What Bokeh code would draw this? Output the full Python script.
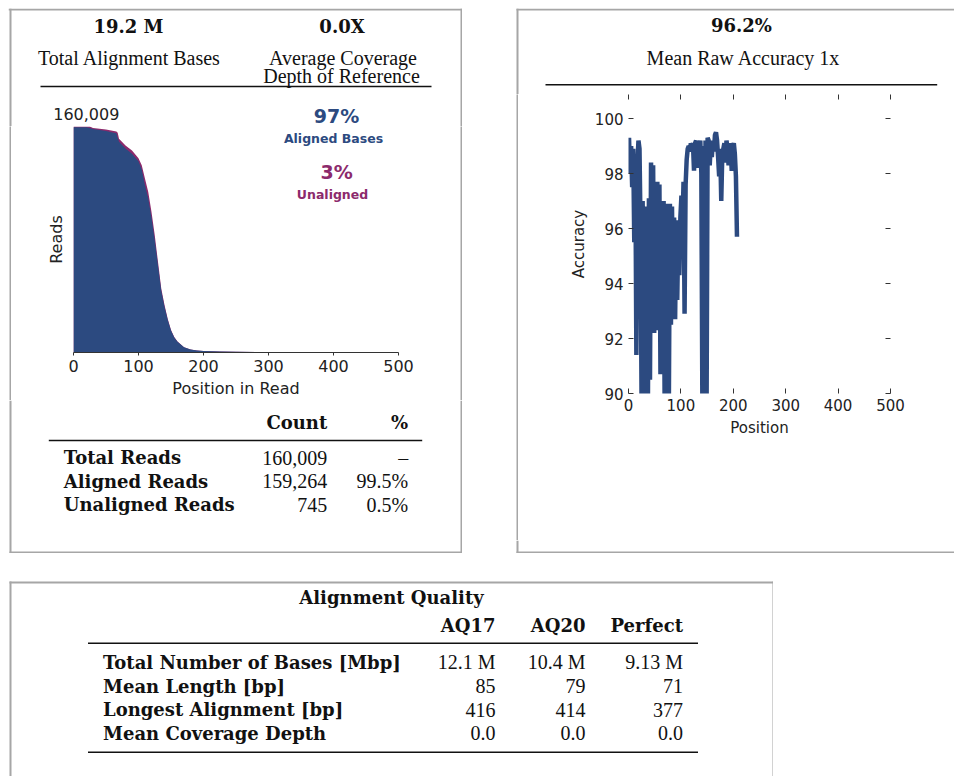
from bokeh.plotting import figure
from bokeh.models import Range1d, FixedTicker, LinearAxis, Spacer
from bokeh.layouts import row, column
from bokeh.core.properties import value
from bokeh.embed import file_html
from bokeh.resources import INLINE

# ---------------- data ----------------
total_alignment_bases = "19.2 M"
avg_coverage_depth = "0.0X"
mean_raw_accuracy = "96.2%"
aligned_bases_pct = "97%"
unaligned_bases_pct = "3%"
max_reads = 160009

# reads still covering each position in read (total vs aligned)
read_positions = [0, 10, 20, 25, 30, 40, 50, 60, 66, 68, 70, 80, 90, 100, 105,
                  110, 115, 120, 125, 130, 135, 140, 145, 150, 155, 160, 170,
                  180, 190, 200, 225, 250, 300, 350, 400, 420, 500]
total_reads = [160009, 160009, 160009, 160009, 159000, 158400, 157900, 157000,
               156500, 155500, 151400, 146600, 143000, 137600, 132500, 123000,
               113600, 99500, 83000, 64000, 45400, 33600, 23800, 16000, 11000,
               7800, 3800, 2100, 1400, 1100, 700, 480, 240, 140, 80, 0, 0]
aligned_reads = [159500, 159500, 159400, 159000, 158200, 157600, 156900, 155800,
                 155200, 152000, 149200, 144400, 140800, 135400, 129500, 118500,
                 109000, 95500, 79500, 61500, 43800, 32400, 23000, 15500, 10700,
                 7600, 3700, 2050, 1370, 1080, 690, 470, 235, 137, 78, 0, 0]
reads_xticks = [0, 100, 200, 300, 400, 500]

# mean raw accuracy by position
acc_positions = list(range(1, 208, 2))
acc_values = [99.3, 98.0, 99.0, 97.5, 98.9,
              95.5, 98.6, 91.4, 98.4, 99.2,
              98.9, 96.0, 89.5, 97.0, 92.5,
              96.8, 89.5, 96.5, 89.5, 97.1,
              90.5, 98.4, 93.0, 98.3, 92.2,
              97.2, 92.3, 97.7, 94.5, 97.6,
              90.7, 96.8, 93.5, 97.0, 89.5,
              96.9, 89.5, 96.6, 89.5, 96.9,
              92.5, 96.8, 93.3, 96.4, 92.7,
              96.3, 93.4, 95.9, 94.3, 96.4,
              97.2, 96.0, 97.7, 92.9, 97.6,
              98.5, 98.9, 99.0, 98.8, 99.1,
              99.0, 99.1, 98.1, 99.1, 99.2,
              98.2, 99.1, 98.9, 99.2, 98.0,
              89.5, 99.0, 89.5, 99.2, 89.5,
              99.3, 99.2, 98.3, 99.1, 98.6,
              99.2, 98.8, 99.4, 99.5, 99.2,
              98.6, 97.9, 98.9, 97.0, 98.7,
              98.9, 99.1, 98.4, 99.2, 98.9,
              98.3, 99.1, 98.9, 98.1, 99.0,
              99.1, 98.7, 97.9, 95.7]
acc_xticks = [0, 100, 200, 300, 400, 500]
acc_yticks = [90, 92, 94, 96, 98, 100]

read_rows = ["Total Reads", "Aligned Reads", "Unaligned Reads"]
read_counts = [160009, 159264, 745]
read_pcts = ["\u2013", "99.5%", "0.5%"]

aq_title = "Alignment Quality"
aq_columns = ["AQ17", "AQ20", "Perfect"]
aq_rows = ["Total Number of Bases [Mbp]", "Mean Length [bp]",
           "Longest Alignment [bp]", "Mean Coverage Depth"]
aq_total_bases = ["12.1 M", "10.4 M", "9.13 M"]
aq_mean_length = [85, 79, 71]
aq_longest = [416, 414, 377]
aq_mean_depth = [0.0, 0.0, 0.0]

# ---------------- style ----------------
BLUE = "#2c4a80"
PURPLE = "#8c2a6c"
BORDER = "#a6a6a6"
INK = "#111111"
SERIF = "Liberation Serif"
SERIF_B = "DejaVu Serif"
SANS = "DejaVu Sans"


def text_fig(w, h):
    p = figure(width=w, height=h, x_range=Range1d(0, w), y_range=Range1d(h, 0),
               x_axis_type=None, y_axis_type=None, min_border=0, tools="",
               toolbar_location=None, output_backend="svg")
    p.outline_line_color = None
    p.background_fill_color = "white"
    p.border_fill_color = "white"
    return p


def solid(w, h):
    p = text_fig(w, h)
    p.background_fill_color = BORDER
    p.border_fill_color = BORDER
    return p


def put(p, x, y, txt, font=SERIF, size="20px", style="normal", align="center", color=INK):
    p.text(x=[x], y=[y], text=[txt], text_font=value(font), text_font_size=value(size),
           text_font_style=style, text_align=align, text_baseline="middle",
           text_color=color)


def bold(p, x, y, txt, align="center"):
    put(p, x, y, txt, font=SERIF_B, size="18px", style="bold", align=align)


def hline(p, x0, x1, y, color=INK, w=1.5):
    p.segment(x0=[x0], y0=[y], x1=[x1], y1=[y], line_color=color, line_width=w)


def vline(p, x, y0, y1, color=BORDER, w=2):
    p.segment(x0=[x], y0=[y0], x1=[x], y1=[y1], line_color=color, line_width=w)


# ---------------- left panel ----------------
LW = 454
hdrL = text_fig(LW, 118)
hline(hdrL, 0, LW, 1, color=BORDER, w=2)
vline(hdrL, 2, 0, 118)
vline(hdrL, 453, 0, 118)
bold(hdrL, 120, 17.5, total_alignment_bases)
put(hdrL, 121, 49, "Total Alignment Bases")
bold(hdrL, 333.5, 17.5, avg_coverage_depth)
put(hdrL, 334.5, 49, "Average Coverage")
put(hdrL, 333, 67.5, "Depth of Reference")
hline(hdrL, 32, 423, 78)
put(hdrL, 44.7, 105, f"{max_reads:,}", font=SANS, size="16px", align="left", color="#222")
put(hdrL, 328, 107, aligned_bases_pct, font=SANS, size="19px", style="bold", color=BLUE)

pl = figure(width=446, height=274, x_range=Range1d(0, 500), y_range=Range1d(0, max_reads),
            min_border_left=61, min_border_right=60, min_border_top=0, min_border_bottom=47,
            tools="", toolbar_location=None, output_backend="svg")
pl.outline_line_color = None
pl.grid.visible = False
pl.varea(x=read_positions, y1=0, y2=total_reads, color=PURPLE)
pl.varea(x=read_positions, y1=0, y2=aligned_reads, color=BLUE)
xa = pl.xaxis[0]
xa.ticker = FixedTicker(ticks=reads_xticks)
xa.axis_line_color = "#333"
xa.major_tick_in = 0
xa.major_tick_out = 3
xa.major_tick_line_color = "#333"
xa.minor_tick_line_color = None
xa.major_label_text_font = SANS
xa.major_label_text_font_size = "16px"
xa.major_label_text_color = "#222"
xa.major_label_standoff = 4
xa.axis_label = "Position in Read"
xa.axis_label_text_font = SANS
xa.axis_label_text_font_size = "16px"
xa.axis_label_text_font_style = "normal"
xa.axis_label_text_color = "#222"
xa.axis_label_standoff = 4
ya = pl.yaxis[0]
ya.ticker = FixedTicker(ticks=[])
ya.axis_line_color = None
ya.major_tick_out = 0
ya.major_tick_in = 0
ya.major_label_standoff = 0
ya.major_label_text_color = None
ya.axis_label = "Reads"
ya.axis_label_text_font = SANS
ya.axis_label_text_font_size = "16px"
ya.axis_label_text_font_style = "normal"
ya.axis_label_text_color = "#222"
ya.axis_label_standoff = 8
pl.text(x=[400, 405, 398.5], y=[151750, 127755, 112015],
        text=["Aligned Bases", unaligned_bases_pct, "Unaligned"],
        text_font=value(SANS), text_font_style="bold",
        text_font_size=["12.5px", "19px", "12.5px"],
        text_color=[BLUE, PURPLE, PURPLE], text_align="center", text_baseline="middle")

padL1 = row(Spacer(width=1, height=274), solid(2, 274), Spacer(width=1, height=274))
padR1 = row(Spacer(width=2, height=274), solid(2, 274))

tblL = text_fig(LW, 153)
vline(tblL, 2, 0, 153)
vline(tblL, 453, 0, 153)
hline(tblL, 1, 454, 152, color=BORDER, w=2)
bold(tblL, 318.7, 21.7, "Count", align="right")
bold(tblL, 399.7, 21.7, "%", align="right")
hline(tblL, 40.3, 413.7, 40)
for i, (name, cnt, pct) in enumerate(zip(read_rows, read_counts, read_pcts)):
    yy = [57.3, 80.5, 104][i]
    bold(tblL, 55.3, yy, name, align="left")
    put(tblL, 318.7, yy, f"{cnt:,}", align="right")
    put(tblL, 399.7, yy, pct, align="right")

left_col = column(hdrL, row(padL1, pl, padR1), tblL)

# ---------------- right panel ----------------
RW = 439
hdrR = text_fig(RW, 86)
hline(hdrR, 1, RW, 1, color=BORDER, w=2)
vline(hdrR, 2, 0, 86)
bold(hdrR, 226, 17, mean_raw_accuracy)
put(hdrR, 228, 49, "Mean Raw Accuracy 1x")
hline(hdrR, 30, 421.7, 76.3)

pr = figure(width=435, height=446, x_range=Range1d(0, 500), y_range=Range1d(90, 100.874),
            min_border_left=109, min_border_right=64, min_border_top=0, min_border_bottom=147,
            tools="", toolbar_location=None, output_backend="svg")
pr.outline_line_color = None
pr.grid.visible = False
pr.line(acc_positions, acc_values, line_width=4.5, color=BLUE)


def tick_axis(ax, ticks, labels):
    ax.ticker = FixedTicker(ticks=ticks)
    ax.axis_line_color = None
    ax.major_tick_in = 5
    ax.major_tick_out = 0
    ax.major_tick_line_color = "#333"
    ax.minor_tick_line_color = None
    ax.major_label_text_font = SANS
    if labels:
        ax.major_label_text_color = "#222"
        ax.major_label_text_font_size = "15px"
        ax.major_label_standoff = 5
    else:
        ax.major_label_text_color = None
        ax.major_label_text_font_size = "1px"
        ax.major_label_standoff = 0


tick_axis(pr.xaxis[0], acc_xticks, True)
tick_axis(pr.yaxis[0], acc_yticks, True)
for ax, lab, st in ((pr.xaxis[0], "Position", 5), (pr.yaxis[0], "Accuracy", 4)):
    ax.axis_label = lab
    ax.axis_label_text_font = SANS
    ax.axis_label_text_font_size = "15px"
    ax.axis_label_text_font_style = "normal"
    ax.axis_label_text_color = "#222"
    ax.axis_label_standoff = st
top_ax = LinearAxis()
tick_axis(top_ax, acc_xticks, False)
pr.add_layout(top_ax, "above")
right_ax = LinearAxis()
tick_axis(right_ax, acc_yticks, False)
pr.add_layout(right_ax, "right")

padL2 = row(Spacer(width=1, height=446), solid(2, 446), Spacer(width=1, height=446))
botR = text_fig(RW, 13)
vline(botR, 2, 0, 13)
hline(botR, 1, RW, 12, color=BORDER, w=2)

right_col = column(hdrR, row(padL2, pr), botR)

# ---------------- bottom panel ----------------
bot = text_fig(765, 196)
hline(bot, 1, 765, 2, color=BORDER, w=2)
vline(bot, 2, 1, 196)
vline(bot, 765, 1, 196)
bold(bot, 383, 16.7, aq_title)
col_right = [487, 577, 674.5]
for cx, name in zip(col_right, aq_columns):
    bold(bot, cx, 45, name, align="right")
hline(bot, 79.5, 689.5, 62.7)
row_y = [81.7, 105.5, 129, 152.5]
aq_cells = [aq_total_bases,
            [str(v) for v in aq_mean_length],
            [str(v) for v in aq_longest],
            [f"{v:.1f}" for v in aq_mean_depth]]
for yy, name, cells in zip(row_y, aq_rows, aq_cells):
    bold(bot, 94.5, yy, name, align="left")
    for cx, c in zip(col_right, cells):
        put(bot, cx, yy, c, align="right")
hline(bot, 79.5, 689.5, 171.7)

content = column(row(left_col, Spacer(width=53, height=545), right_col),
                 Spacer(width=946, height=27), bot)
page = column(Spacer(width=954, height=8), row(Spacer(width=8, height=768), content))

open("out.html", "w").write(file_html(page, INLINE))
